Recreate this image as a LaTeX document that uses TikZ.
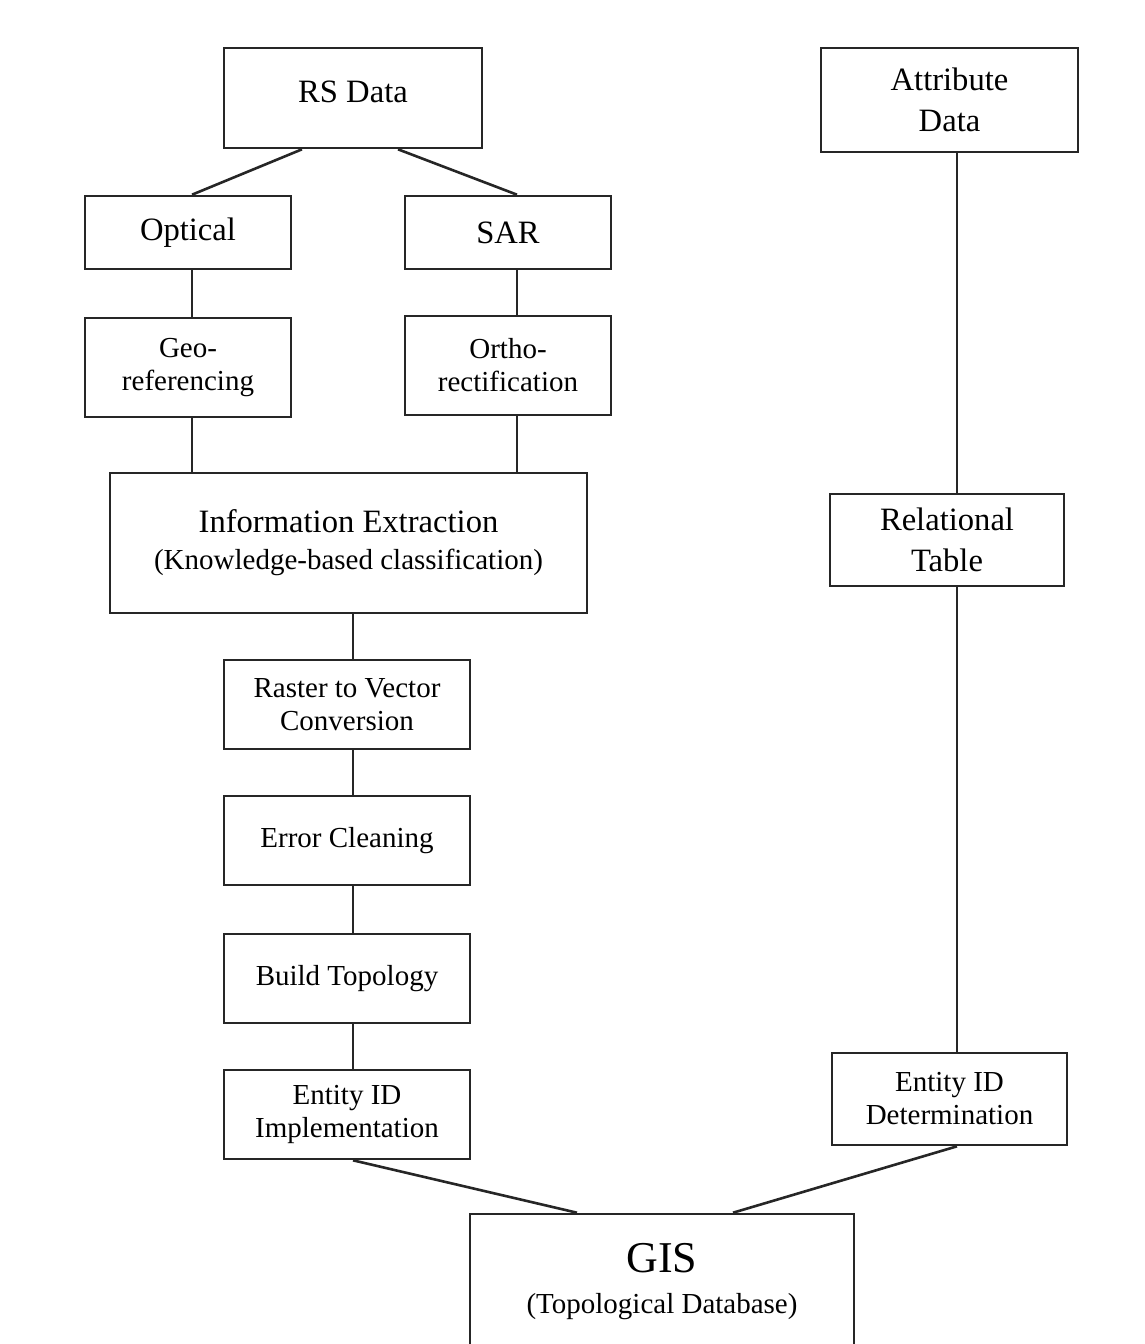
\documentclass[tikz,border=0pt]{standalone}
\usepackage{fontspec}
\setmainfont{Liberation Serif}
\usepackage{tikz}
\usetikzlibrary{positioning, calc}

\begin{document}
\begin{tikzpicture}[x=0.5pt,y=-0.5pt,
        every node/.style={font=\fontsize{16.3}{20.5}\selectfont},
        block/.style={draw=black!85,line width=1.3pt,align=center,inner sep=0pt},
        small/.style={font=\fontsize{14.5}{16.5}\selectfont},
        link/.style={draw=black!85,line width=1.3pt}]

    \useasboundingbox (0,0) rectangle (1145,1344);

    % remote sensing branch
    \node[block, minimum width=129pt, minimum height=50pt] (rs) at (353,98) {\raisebox{6pt}{RS Data}};
    \node[block, minimum width=103pt, minimum height=36.5pt] (opt) at (188,232.5) {Optical};
    \node[block, minimum width=103pt, minimum height=36.5pt] (sar) at (508,232.5) {SAR};
    \node[block, small, minimum width=103pt, minimum height=49.5pt] (geo) at (188,367.5) {Geo-\\referencing};
    \node[block, small, minimum width=103pt, minimum height=49.5pt] (ortho) at (508,365.5) {Ortho-\\rectification};
    \node[block, minimum width=238.5pt, minimum height=70pt, align=center] (info) at (348.5,543)
        {Information Extraction\\[-2pt]{\fontsize{14.5}{16.5}\selectfont (Knowledge-based classification)}};
    \node[block, small, minimum width=123pt, minimum height=44.5pt] (raster) at (347,704.5) {Raster to Vector\\Conversion};
    \node[block, small, minimum width=123pt, minimum height=44.5pt] (clean) at (347,840.5) {Error Cleaning};
    \node[block, small, minimum width=123pt, minimum height=44.5pt] (topo) at (347,978.5) {Build Topology};
    \node[block, small, minimum width=123pt, minimum height=44.5pt] (impl) at (347,1114.5) {Entity ID\\Implementation};

    % attribute branch
    \node[block, minimum width=128.5pt, minimum height=52pt] (attr) at (949.5,100) {Attribute\\Data};
    \node[block, minimum width=117pt, minimum height=46pt] (rel) at (947,540) {Relational\\Table};
    \node[block, small, minimum width=117.5pt, minimum height=46pt] (det) at (949.5,1099) {Entity ID\\Determination};

    % result
    \node[block, minimum width=192pt, minimum height=68pt] (gis) at (662,1282)
        {{\fontsize{22}{20}\selectfont GIS}\\{\fontsize{14.5}{16.5}\selectfont (Topological Database)}};

    % connectors
    \draw[link] ($(rs.south)+(-51,0)$) -- ($(opt.north)+(4,0)$);
    \draw[link] ($(rs.south)+(45,0)$) -- ($(sar.north)+(9,0)$);
    \draw[link] ($(opt.south)+(4,0)$) -- ($(geo.north)+(4,0)$);
    \draw[link] ($(sar.south)+(9,0)$) -- ($(ortho.north)+(9,0)$);
    \draw[link] ($(geo.south)+(4,0)$) coordinate (g) -- (g |- info.north);
    \draw[link] ($(ortho.south)+(9,0)$) coordinate (o) -- (o |- info.north);
    \draw[link] ($(info.south)+(4.5,0)$) coordinate (i) -- (i |- raster.north);
    \draw[link] ($(raster.south)+(6,0)$) -- ($(clean.north)+(6,0)$);
    \draw[link] ($(clean.south)+(6,0)$) -- ($(topo.north)+(6,0)$);
    \draw[link] ($(topo.south)+(6,0)$) -- ($(impl.north)+(6,0)$);
    \draw[link] ($(impl.south)+(6,0)$) -- ($(gis.north)+(-85,0)$);
    \draw[link] ($(attr.south)+(7.5,0)$) -- ($(rel.north)+(10,0)$);
    \draw[link] ($(rel.south)+(10,0)$) -- ($(det.north)+(7.5,0)$);
    \draw[link] ($(det.south)+(7.5,0)$) -- ($(gis.north)+(71,0)$);
\end{tikzpicture}
\end{document}
